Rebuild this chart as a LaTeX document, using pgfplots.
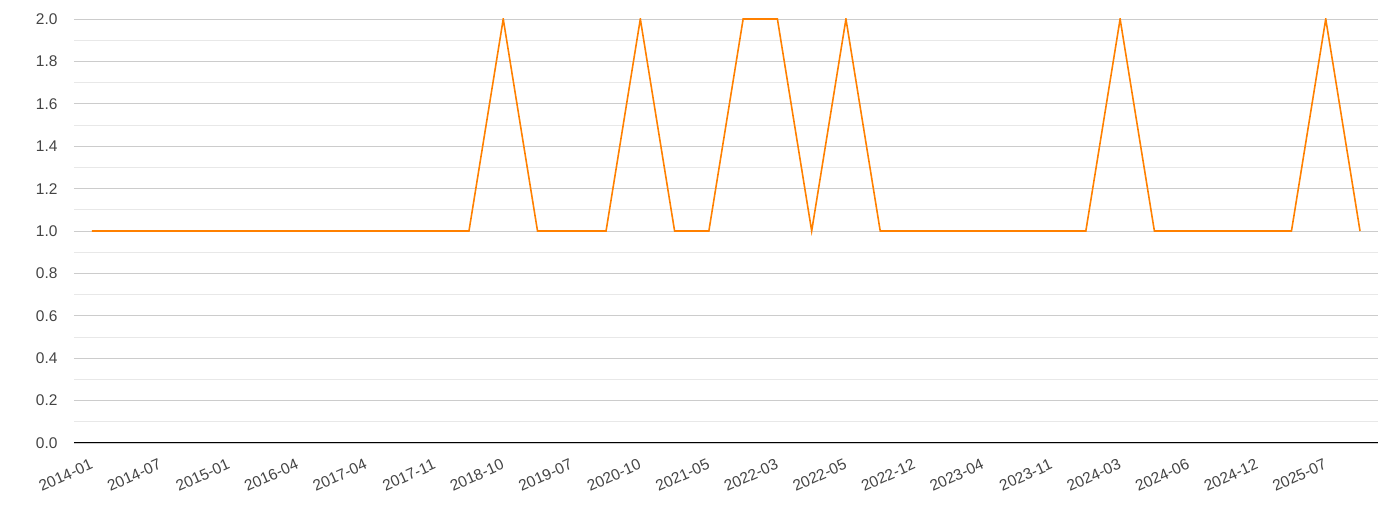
\documentclass[border=0pt]{standalone}
\usepackage{pgfplots}
\pgfplotsset{compat=1.18}
\usepackage{fontspec}
\setmainfont{Liberation Sans}
\definecolor{lineorange}{HTML}{FF8000}
\definecolor{majgrid}{HTML}{CCCCCC}
\definecolor{mingrid}{HTML}{E8E8E8}
\definecolor{labelgray}{HTML}{444444}

\begin{document}
\begin{tikzpicture}
    \begin{axis}[
        scale only axis,
        width  = 1304bp,
        height = 424bp,
        xmin = -0.525, xmax = 37.525,
        ymin = 0, ymax = 2,
        axis x line* = bottom,
        axis y line* = left,
        y axis line style = {draw=none},
        x axis line style = {black, line width=1pt},
        major tick length = 0pt,
        minor tick length = 0pt,
        ytick = {0,0.2,...,2.01},
        minor y tick num = 1,
        ymajorgrids = true,
        yminorgrids = true,
        major grid style = {majgrid, line width=0.8pt},
        minor grid style = {mingrid, line width=0.8pt},
        xtick = {0,2,...,36},
        xticklabels = {2014-01,2014-07,2015-01,2016-04,2017-04,2017-11,2018-10,2019-07,2020-10,2021-05,2022-03,2022-05,2022-12,2023-04,2023-11,2024-03,2024-06,2024-12,2025-07},
        /pgf/number format/assume math mode=true,
        yticklabel = {\pgfmathprintnumber[fixed,fixed zerofill,precision=1]{\tick}},
        ticklabel style = {font=\fontsize{15.5bp}{18bp}\selectfont, text=labelgray},
        yticklabel style = {xshift=-13bp},
        xticklabel style = {xshift=-2bp, yshift=-14bp, rotate=24, anchor=north east, inner sep=1bp},
    ]
        \addplot[lineorange, line width=1.6pt, mark=none] coordinates {
            (0,1) (1,1) (2,1) (3,1) (4,1) (5,1) (6,1) (7,1) (8,1) (9,1)
            (10,1) (11,1) (12,2) (13,1) (14,1) (15,1) (16,2) (17,1) (18,1) (19,2)
            (20,2) (21,1) (22,2) (23,1) (24,1) (25,1) (26,1) (27,1) (28,1) (29,1)
            (30,2) (31,1) (32,1) (33,1) (34,1) (35,1) (36,2) (37,1)
        };
    \end{axis}
    \pgfresetboundingbox
    \path[use as bounding box] ([shift={(-74bp,-67bp)}]current axis.south west) rectangle ([shift={(12bp,19bp)}]current axis.north east);
\end{tikzpicture}
\end{document}
